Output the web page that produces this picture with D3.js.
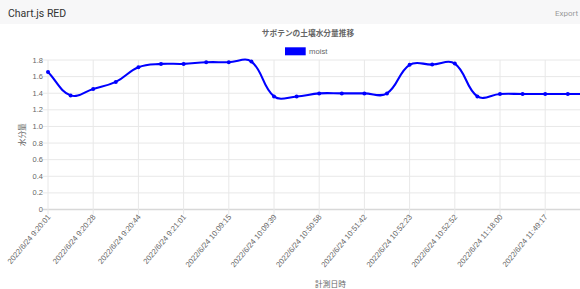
<!DOCTYPE html>
<html><head><meta charset="utf-8">
<script src="https://cdn.jsdelivr.net/npm/d3@7"></script>
<style>html,body{margin:0;padding:0;background:#fff;overflow:hidden}</style>
</head><body><svg id="c" width="580" height="289"></svg>
<script>
// ---- data ----
const seriesName = "moist";
const values = [1.655,1.374,1.452,1.536,1.713,1.753,1.753,1.773,1.773,1.781,1.362,1.360,1.398,1.398,1.398,1.398,1.742,1.745,1.757,1.362,1.391,1.391,1.391,1.391,1.391,1.391];
const tickIndex = [0,2,4,6,8,10,12,14,16,18,20,22];
const tickLabels = ["2022/6/24 9:20:01","2022/6/24 9:20:28","2022/6/24 9:20:44","2022/6/24 9:21:01","2022/6/24 10:09:15","2022/6/24 10:09:39","2022/6/24 10:50:58","2022/6/24 10:51:42","2022/6/24 10:52:23","2022/6/24 10:52:52","2022/6/24 11:18:00","2022/6/24 11:49:17"];
const yTicks = [0,0.2,0.4,0.6,0.8,1.0,1.2,1.4,1.6,1.8];
const titleText = "サボテンの土壌水分量推移";
const yTitle = "水分量";
const xTitle = "計測日時";

const svg = d3.select("#c");
const W=580,H=289;
svg.append("rect").attr("width",W).attr("height",H).attr("fill","#fff");
// header
svg.append("rect").attr("width",W).attr("height",24).attr("fill","#f7f7f8");
svg.append("text").attr("x",8).attr("y",13).attr("dominant-baseline","central")
  .attr("font-family","Roboto, 'Liberation Sans', sans-serif").attr("font-size",10.5).attr("fill","#333").text("Chart.js RED");
svg.append("text").attr("x",555).attr("y",13).attr("dominant-baseline","central")
  .attr("font-family","Roboto, 'Liberation Sans', sans-serif").attr("font-size",8).attr("fill","#999").text("Export");

const L=48, R=613, T=60, B=209.5;
const x = d3.scaleLinear().domain([0, values.length-1]).range([L,R]);
const y = d3.scaleLinear().domain([0,1.8]).range([B,T]);
const fTick = "'Liberation Sans', Arial, sans-serif";
const fCJK = "'Noto Sans CJK JP', sans-serif";

// grid
const g = svg.append("g");
g.selectAll(".hg").data(yTicks).join("line")
  .attr("x1",L-5).attr("x2",R).attr("y1",d=>y(d)).attr("y2",d=>y(d))
  .attr("stroke",d=>d===0?"#d8d8d8":"#e8e8e8").attr("stroke-width",d=>d===0?1.6:1);
g.selectAll(".vg").data(tickIndex).join("line")
  .attr("x1",d=>x(d)).attr("x2",d=>x(d)).attr("y1",T).attr("y2",B+5)
  .attr("stroke","#e8e8e8").attr("stroke-width",1);
// y tick labels
g.selectAll(".yl").data(yTicks).join("text")
  .attr("x",L-5).attr("y",d=>y(d)).attr("text-anchor","end").attr("dominant-baseline","central")
  .attr("font-family",fTick).attr("font-size",7.5).attr("fill","#666")
  .text(d=>d===0?"0":d3.format(".1f")(d));
// x tick labels
g.selectAll(".xl").data(tickIndex).join("text")
  .attr("transform",d=>`translate(${x(d)+1},${B+6}) rotate(-50)`)
  .attr("text-anchor","end").attr("dominant-baseline","central")
  .attr("font-family",fTick).attr("font-size",7.7).attr("fill","#666")
  .text((d,i)=>tickLabels[i]);
// axis titles
svg.append("text").attr("transform",`translate(21,${(T+B)/2}) rotate(-90)`).attr("text-anchor","middle")
  .attr("dominant-baseline","central").attr("font-family",fCJK).attr("font-size",7.7).attr("fill","#666").text(yTitle);
svg.append("text").attr("x",(L+R)/2).attr("y",283.5).attr("text-anchor","middle")
  .attr("dominant-baseline","central").attr("font-family",fCJK).attr("font-size",7.7).attr("fill","#666").text(xTitle);
// title
svg.append("text").attr("x",308).attr("y",32.7).attr("text-anchor","middle").attr("dominant-baseline","central")
  .attr("font-family",fCJK).attr("font-weight","bold").attr("font-size",7.7).attr("fill","#666").text(titleText);
// legend
svg.append("rect").attr("x",285).attr("y",47.3).attr("width",20.7).attr("height",8).attr("fill","#0000ff");
svg.append("text").attr("x",309).attr("y",51.3).attr("dominant-baseline","central")
  .attr("font-family",fTick).attr("font-size",7.7).attr("fill","#666").text(seriesName);

// line (Chart.js-style spline, tension 0.4)
const pts = values.map((v,i)=>({x:x(i),y:y(v)}));
const t=0.4;
const cps = pts.map((p,i)=>{
  const pr = pts[i-1]||p, nx = pts[i+1]||p;
  const d01=Math.hypot(p.x-pr.x,p.y-pr.y), d12=Math.hypot(nx.x-p.x,nx.y-p.y);
  let s01=d01/(d01+d12), s12=d12/(d01+d12);
  if(isNaN(s01)) s01=0; if(isNaN(s12)) s12=0;
  const fa=t*s01, fb=t*s12;
  return {px:p.x-fa*(nx.x-pr.x),py:p.y-fa*(nx.y-pr.y),nx:p.x+fb*(nx.x-pr.x),ny:p.y+fb*(nx.y-pr.y)};
});
const path = d3.path();
pts.forEach((p,i)=>{
  if(i===0) path.moveTo(p.x,p.y);
  else path.bezierCurveTo(cps[i-1].nx,cps[i-1].ny,cps[i].px,cps[i].py,p.x,p.y);
});
svg.append("path").attr("d",path.toString()).attr("fill","none").attr("stroke","#0000ff").attr("stroke-width",2.1);
svg.selectAll(".pt").data(pts).join("circle").attr("cx",d=>d.x).attr("cy",d=>d.y).attr("r",2)
  .attr("fill","#0000ff");
</script></body></html>
